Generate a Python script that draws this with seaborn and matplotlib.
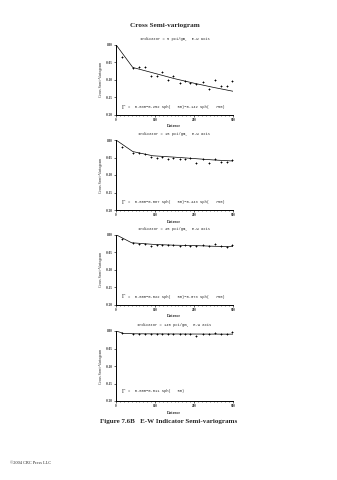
import numpy as np
import pandas as pd
import matplotlib
matplotlib.use("Agg")
import matplotlib.pyplot as plt
from matplotlib.ticker import MultipleLocator
import seaborn as sns

# ---- data ----
subtitles = ["Indicator = 5 pCi/gm,  E-W axis",
             "Indicator = 15 pCi/gm,  E-W axis",
             "Indicator = 45 pCi/gm,  E-W axis",
             "Indicator = 140 pCi/gm,  E-W axis"]
formulas = ["0.030\u22120.252 Sph(   50)\u22120.142 Sph(   750)",
            "0.000\u22120.067 Sph(   50)\u22120.443 Sph(   750)",
            "0.000\u22120.022 Sph(   50)\u22120.073 Sph(   750)",
            "0.000\u22120.011 Sph(   50)"]

lag = [15, 43, 60, 75, 90, 105, 118, 133, 147, 163, 177, 191, 206, 222, 238, 253, 270, 285, 298]

pts1 = [-0.036, -0.067, -0.064, -0.064, -0.088, -0.089, -0.078, -0.102, -0.089, -0.108,
        -0.103, -0.110, -0.112, -0.107, -0.127, -0.100, -0.117, -0.117, -0.103]
pts2 = [-0.021, -0.036, -0.038, -0.041, -0.048, -0.050, -0.048, -0.054, -0.052, -0.053,
        -0.053, -0.050, -0.065, -0.055, -0.065, -0.055, -0.062, -0.062, -0.058]
pts3 = [-0.011, -0.024, -0.026, -0.026, -0.033, -0.029, -0.029, -0.030, -0.030, -0.031,
        -0.029, -0.033, -0.033, -0.030, -0.033, -0.027, -0.033, -0.035, -0.030]
pts4 = [-0.005, -0.009, -0.008, -0.009, -0.008, -0.008, -0.009, -0.008, -0.009, -0.009,
        -0.008, -0.008, -0.015, -0.008, -0.009, -0.007, -0.008, -0.009, -0.004]

model_x1 = [0, 43, 100, 150, 200, 250, 300]
model_y1 = [0.0, -0.065, -0.082, -0.097, -0.110, -0.122, -0.133]
model_x2 = [0, 43, 94, 150, 200, 250, 300]
model_y2 = [0.0, -0.033, -0.045, -0.049, -0.053, -0.057, -0.060]
model_x3 = [0, 40, 100, 150, 200, 250, 300]
model_y3 = [0.0, -0.023, -0.028, -0.030, -0.031, -0.033, -0.034]
model_x4 = [0, 20, 50, 150, 300]
model_y4 = [0.0, -0.007, -0.008, -0.0085, -0.009]

x_ticks = [0, 100, 200, 300]
y_ticks = [0.0, -0.05, -0.10, -0.15, -0.20]
y_tick_labels = ["0.00", "-0.05", "-0.10", "-0.15", "-0.20"]

points = [pts1, pts2, pts3, pts4]
models = [(model_x1, model_y1), (model_x2, model_y2), (model_x3, model_y3), (model_x4, model_y4)]

# ---- figure ----
sns.set_theme(style="ticks")
plt.rcParams['font.family'] = ['DejaVu Sans']

W, H = 337, 480
fig = plt.figure(figsize=(W / 100, H / 100), dpi=100)
fig.patch.set_facecolor("white")

def fx(px):
    return px / W

def fy(py):
    return 1 - py / H

serif = ['Liberation Serif', 'DejaVu Serif']
mono = ['Liberation Mono', 'DejaVu Sans Mono']

fig.text(fx(165), fy(26), "Cross Semi-variogram", ha="center", va="center",
         family=serif, fontweight="bold", fontsize=5.2)

tops = [44.7, 140, 234.7, 331]
ax_h = 70
left, width = 116, 117
formula_frac = [0.11, 0.11, 0.11, 0.14]

for i in range(4):
    top = tops[i]
    ax = fig.add_axes([fx(left), fy(top + ax_h), width / W, ax_h / H])
    ax.set_facecolor("white")
    dfp = pd.DataFrame({"Distance": lag, "Gamma": points[i]})
    dfm = pd.DataFrame({"Distance": models[i][0], "Gamma": models[i][1]})
    sns.lineplot(data=dfm, x="Distance", y="Gamma", ax=ax, color="black", lw=0.5)
    sns.scatterplot(data=dfp, x="Distance", y="Gamma", ax=ax, color="black",
                    marker="+", s=4, linewidth=0.6)
    ax.set_xlim(0, 300)
    ax.set_ylim(-0.20, 0.0)
    ax.set_xticks(x_ticks)
    ax.set_xticklabels([str(t) for t in x_ticks], family=serif, fontsize=2.3, fontweight="bold")
    ax.set_yticks(y_ticks)
    ax.set_yticklabels(y_tick_labels, family=serif, fontsize=2.3, fontweight="bold")
    ax.xaxis.set_minor_locator(MultipleLocator(10))
    ax.tick_params(axis="both", which="major", length=1.5, width=0.5, pad=1)
    ax.tick_params(axis="x", which="minor", length=1.0, width=0.4)
    for s in ["top", "right"]:
        ax.spines[s].set_visible(False)
    for s in ["left", "bottom"]:
        ax.spines[s].set_linewidth(0.7)
        ax.spines[s].set_color("black")
    ax.set_xlabel("Distance", family=serif, fontsize=2.8, fontweight="bold", labelpad=1.5)
    ax.set_ylabel("Cross Semi-Variogram", family=serif, fontsize=2.8, labelpad=2)
    ax.text(0.5, 1.08, subtitles[i], transform=ax.transAxes, ha="center", va="center",
            family=mono, fontsize=2.7)
    ax.text(0.05, formula_frac[i], "\u0393", transform=ax.transAxes, ha="left", va="center",
            family=serif, fontsize=4.2)
    ax.text(0.10, formula_frac[i], "=  " + formulas[i], transform=ax.transAxes, ha="left",
            va="center", family=mono, fontsize=2.7)

fig.text(fx(169), fy(421), "Figure 7.6B   E-W Indicator Semi-variograms", ha="center",
         va="center", family=serif, fontweight="bold", fontsize=5.0)
fig.text(fx(10), fy(463), "\u00a92004 CRC Press LLC", ha="left", va="center",
         family=serif, fontsize=3.2)

fig.savefig("out.png", dpi=100, facecolor="white")
